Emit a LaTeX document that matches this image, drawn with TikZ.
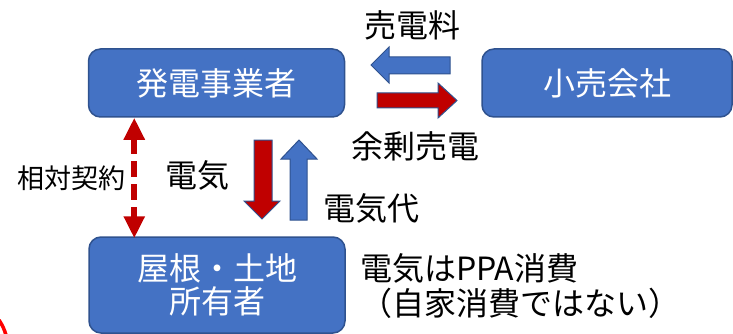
\documentclass[tikz,border=0pt]{standalone}
\usepackage{fontspec}
\setmainfont{Noto Sans CJK JP}
\usetikzlibrary{arrows.meta}
\definecolor{pblue}{HTML}{4472C4}
\definecolor{pedge}{HTML}{2F528F}
\definecolor{pred}{HTML}{C00000}
\begin{document}
\begin{tikzpicture}[x=1pt,y=-1pt,
  box/.style={draw=pedge, line width=1.5pt, fill=pblue, rounded corners=12pt, text=white,
    font=\fontsize{32}{33}\selectfont, align=center, inner sep=0pt},
  lbl/.style={font=\fontsize{32}{34}\selectfont, inner sep=0pt},
  bluearrow/.style={draw=pedge, fill=pblue, line width=1pt, line join=miter},
  redarrow/.style={draw=pedge, fill=pred, line width=1pt, line join=miter},
  contract/.style={pred, line width=6pt, dash pattern=on 16pt off 7pt,
    {Triangle[width=20pt,length=22pt]}-{Triangle[width=20pt,length=22pt]}},
]
\useasboundingbox (0,0) rectangle (733,334);
% boxes
\node[box, minimum width=256pt, minimum height=68pt] (gen) at (216.5,83) {発電事業者};
\node[box, minimum width=250pt, minimum height=68pt] (ret) at (607,83) {小売会社};
\node[box, minimum width=256pt, minimum height=96pt] (own) at (217,285) {屋根・土地\\所有者};
% block arrows between generator and retailer
\draw[bluearrow] (371,65) -- (389,47) -- (389,57) -- (450,57) -- (450,74) -- (389,74) -- (389,83) -- cycle;
\draw[redarrow] (457,100.5) -- (438,83) -- (438,93) -- (377,93) -- (377,108) -- (438,108) -- (438,118) -- cycle;
% block arrows between generator and owner
\draw[redarrow] (254,140) -- (272,140) -- (272,201) -- (280,201) -- (262,219) -- (244,201) -- (254,201) -- cycle;
\draw[bluearrow] (299,140) -- (317,159) -- (307,159) -- (307,220) -- (290,220) -- (290,159) -- (281,159) -- cycle;
% dashed contract arrow
\coordinate (ca) at ([xshift=46.5pt]gen.south west);
\coordinate (cb) at ([xshift=46pt,yshift=-2pt]own.north west);
\draw[contract] (ca) -- (cb);
% labels
\node[lbl] (t1) at (412,25) {売電料};
\node[lbl] (t2) at (415,146) {余剰売電};
\node[lbl] (t3) at (197,175) {電気};
\node[lbl] (t4) at (371,208) {電気代};
\node[lbl, font=\fontsize{27}{30}\selectfont] (t5) at (71.5,178) {相対契約};
\node[lbl, anchor=west] (t6) at (360,268) {電気はPPA消費};
\node[lbl, anchor=west] (t7) at (360,303) {（自家消費ではない）};
% red fragment at bottom left
\draw[red, line width=3.5pt] (-1,320) to[bend left=8] (6,335);
\end{tikzpicture}
\end{document}
